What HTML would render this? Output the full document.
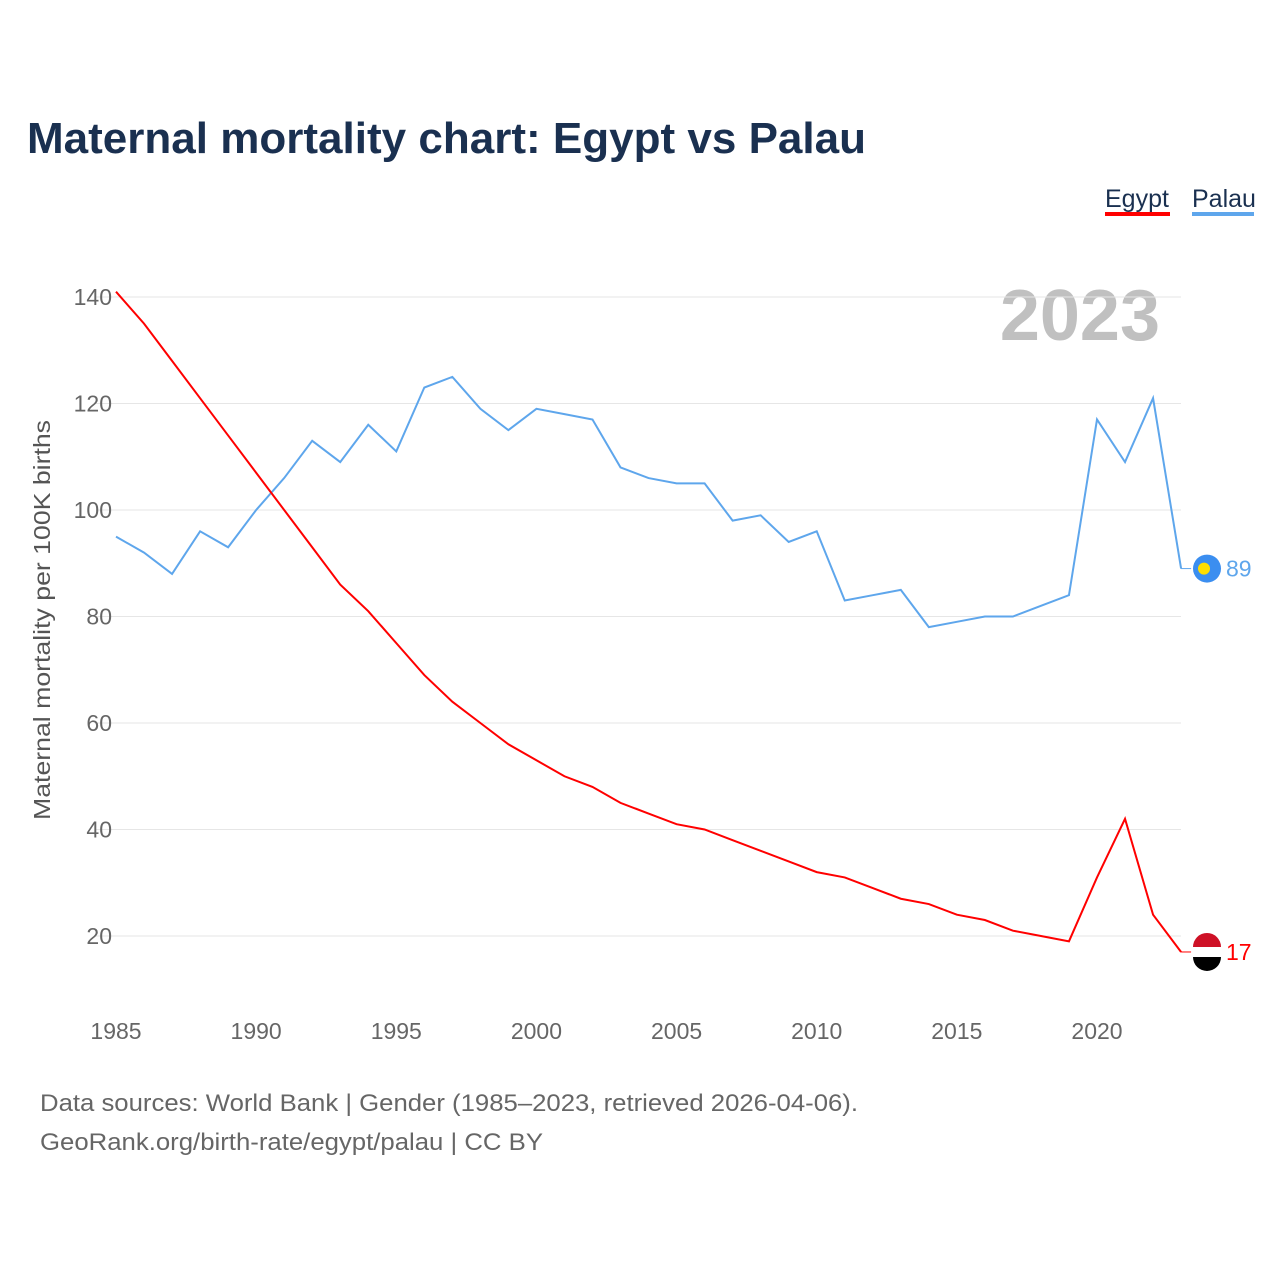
<!DOCTYPE html>
<html><head><meta charset="utf-8"><style>
body{margin:0;background:#fff;font-family:"Liberation Sans",sans-serif}
</style></head><body>
<svg width="1280" height="1280" xmlns="http://www.w3.org/2000/svg" style="font-family:'Liberation Sans',sans-serif">
<text x="27" y="153" font-size="44" font-weight="bold" fill="#1a3050" textLength="839" lengthAdjust="spacingAndGlyphs">Maternal mortality chart: Egypt vs Palau</text>
<g>
<text x="1105" y="207" font-size="25" fill="#1a3050">Egypt</text>
<rect x="1105" y="212" width="65" height="4" fill="#ff0000"/>
<text x="1192" y="207" font-size="25" fill="#1a3050">Palau</text>
<rect x="1192" y="212" width="62" height="4" fill="#5ea6ec"/>
</g>
<text x="1160" y="340" font-size="72" font-weight="bold" fill="#c0c0c0" text-anchor="end">2023</text>
<g id="grid"></g><g id="xt"></g><g id="lines"></g>
<text transform="translate(50,620) rotate(-90)" font-size="23" fill="#555" text-anchor="middle" textLength="400" lengthAdjust="spacingAndGlyphs">Maternal mortality per 100K births</text>
<text x="40" y="1111" font-size="24" fill="#666" textLength="818" lengthAdjust="spacingAndGlyphs">Data sources: World Bank | Gender (1985–2023, retrieved 2026-04-06).</text>
<text x="40" y="1150" font-size="24" fill="#666" textLength="503" lengthAdjust="spacingAndGlyphs">GeoRank.org/birth-rate/egypt/palau | CC BY</text>
</svg>
<script>
const years=[];for(let y=1985;y<=2023;y++)years.push(y);
const egypt=[141,135,128,121,114,107,100,93,86,81,75,69,64,60,56,53,50,48,45,43,41,40,38,36,34,32,31,29,27,26,24,23,21,20,19,31,42,24,17];
const palau=[95,92,88,96,93,100,106,113,109,116,111,123,125,119,115,119,118,117,108,106,105,105,98,99,94,96,83,84,85,78,79,80,80,82,84,117,109,121,89];
const yTicks=[20,40,60,80,100,120,140];
const xTicks=[1985,1990,1995,2000,2005,2010,2015,2020];
const NS="http://www.w3.org/2000/svg";
const X=y=>116+(y-1985)*(1097-116)/35;
const Y=v=>936-(v-20)*(936-297)/120;
function mk(t,a,p){const e=document.createElementNS(NS,t);for(const k in a)e.setAttribute(k,a[k]);p.appendChild(e);return e;}
const g=document.getElementById('grid');
yTicks.forEach(v=>{
 const l=mk('line',{x1:96,x2:1181,y1:Y(v),y2:Y(v),stroke:'#e6e6e6','stroke-width':1},g);
 
 
 const t=mk('text',{x:112,y:Y(v)+8,'font-size':23,fill:'#666','text-anchor':'end'},g);t.textContent=v;
 
 
});
const xt=document.getElementById('xt');
xTicks.forEach(v=>{
 const t=mk('text',{x:X(v),y:1039,'font-size':23,fill:'#666','text-anchor':'middle'},xt);t.textContent=v;
 
 
});
const L=document.getElementById('lines');
function series(vals,col,name){
 const p=mk('polyline',{points:vals.map((v,i)=>X(years[i])+','+Y(v)).join(' '),fill:'none',stroke:col,'stroke-width':2},L);
 
 
 const last=vals[vals.length-1],lx=X(2023),ly=Y(last);
 mk('line',{x1:lx,x2:lx+10,y1:ly,y2:ly,stroke:col,'stroke-width':1},L);
 const c=mk('circle',{cx:1207,cy:ly,r:14,fill:name=='egypt'?'#fff':'#3b8ef0'},L);
 
 
 if(name=='egypt'){mk('path',{d:`M1193 ${ly-5}A14 14 0 0 1 1221 ${ly-5}Z`,fill:'#ce1126'},L);mk('path',{d:`M1193 ${ly+5}A14 14 0 0 0 1221 ${ly+5}Z`,fill:'#000'},L);}
 else mk('circle',{cx:1204,cy:ly,r:6,fill:'#ffde00'},L);
 const t=mk('text',{x:1226,y:ly+8,'font-size':23,fill:col},L);t.textContent=last;
 
 
}
series(palau,'#5ea6ec','palau');
series(egypt,'#ff0000','egypt');
</script>
</body></html>
